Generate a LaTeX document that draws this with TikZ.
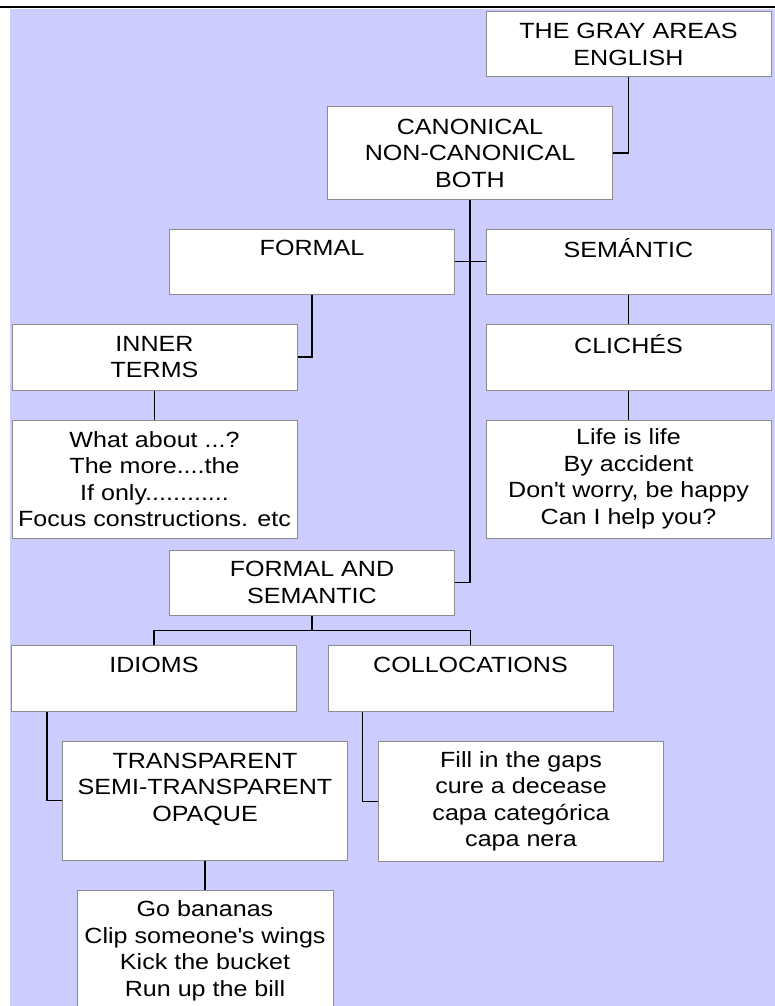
\documentclass[tikz,border=0pt]{standalone}
\usepackage{fontspec}
\setmainfont{Liberation Sans}[FakeStretch=1.14]
\usetikzlibrary{calc}
\definecolor{bgblue}{HTML}{CCCCFF}
\definecolor{boxgray}{HTML}{8C8C8C}

\begin{document}
\begin{tikzpicture}[x=1pt, y=-1pt, font=\fontsize{22}{26.5}\selectfont,
    blk/.style={draw=boxgray, line width=1pt, fill=white, align=center, inner sep=0pt, minimum width=285pt, minimum height=65pt},
    lnk/.style={line width=1.2pt, black}]

    \useasboundingbox (0,0) rectangle (775,1006);
    \clip (0,0) rectangle (775,1006);
    \fill[bgblue] (10,9) rectangle (775,1006);
    \draw[line width=2pt] (0,7) -- (775,7);

    \node[blk] (gray) at (628.5,44.5) {THE GRAY AREAS\\ENGLISH};
    \node[blk, minimum height=92pt] (canon) at (470,153) {CANONICAL\\NON-CANONICAL\\BOTH};
    \node[blk] (formal) at (312,261.5) {FORMAL\\~};
    \node[blk] (seman) at (628.5,261.5) {SEMÁNTIC\\~};
    \node[blk, minimum height=66pt] (inner) at (154.5,357) {INNER\\TERMS};
    \node[blk, minimum height=66pt] (cliche) at (628.5,357) {CLICHÉS\\~};
    \node[blk, minimum height=118pt] (innerex) at (154.5,479) {What about ...?\\The more....the\\If only............\\Focus constructions. etc};
    \node[blk, minimum height=118pt] (clicheex) at (628.5,479) {Life is life\\By accident\\Don\textquotesingle t worry, be happy\\Can I help you?};
    \node[blk] (both) at (312,582.5) {FORMAL AND\\SEMANTIC};
    \node[blk, minimum height=66pt] (idiom) at (154,678) {IDIOMS\\~};
    \node[blk, minimum height=66pt] (colloc) at (470.5,678) {COLLOCATIONS\\~};
    \node[blk, minimum height=119pt] (transp) at (205,800.5) {TRANSPARENT\\SEMI-TRANSPARENT\\OPAQUE\\~};
    \node[blk, minimum height=120pt] (collex) at (521,801.5) {Fill in the gaps\\cure a decease\\capa categórica\\capa nera};
    \node[blk, minimum width=256pt, minimum height=122pt] (idiomex) at (205,951) {Go bananas\\Clip someone\textquotesingle s wings\\Kick the bucket\\Run up the bill};

    \draw[lnk] (gray.south) |- (canon.east);
    \draw[lnk] (canon.south) |- (both.east);
    \draw[lnk] (formal.east) -- (seman.west);
    \draw[lnk] (formal.south) |- (inner.east);
    \draw[lnk] (inner.south) -- (innerex.north);
    \draw[lnk] (seman.south) -- (cliche.north);
    \draw[lnk] (cliche.south) -- (clicheex.north);
    \draw[lnk] (both.south) -- ++(0,15) -| (idiom.north);
    \draw[lnk] (both.south) -- ++(0,15) -| (colloc.north);
    \draw[lnk] ([xshift=36pt]idiom.south west) |- (transp.west);
    \draw[lnk] ([xshift=35pt]colloc.south west) |- (collex.west);
    \draw[lnk] (transp.south) -- (idiomex.north);

\end{tikzpicture}
\end{document}
